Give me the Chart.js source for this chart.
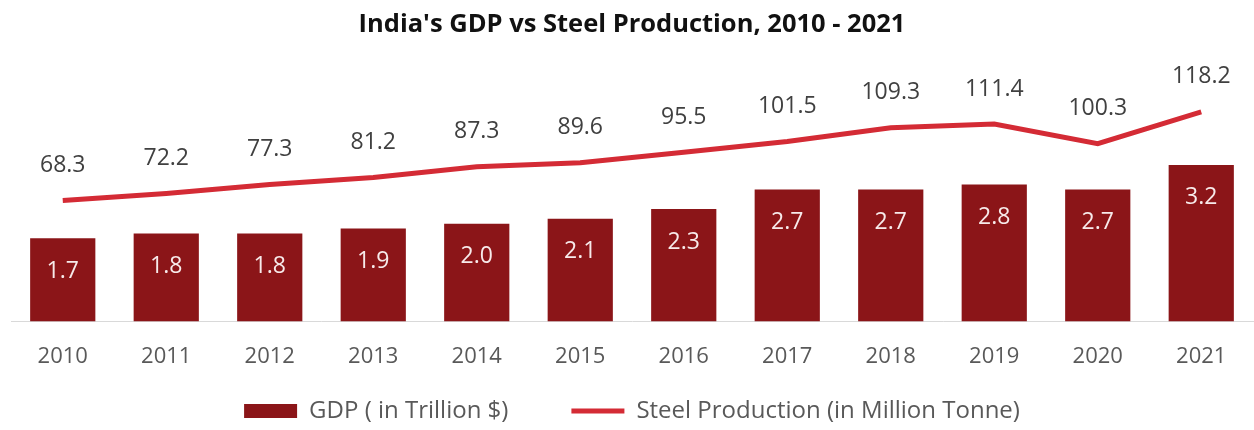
<!DOCTYPE html>
<html>
<head>
<meta charset="utf-8">
<title>India's GDP vs Steel Production</title>
<script src="https://cdn.jsdelivr.net/npm/chart.js@4/dist/chart.umd.min.js"></script>
<style>
  html, body { margin: 0; padding: 0; background: #fff; }
  #wrap { width: 1254px; height: 430px; }
</style>
</head>
<body>
<div id="wrap"><canvas id="chart"></canvas></div>
<script>
// Years on the x axis
const years = ['2010', '2011', '2012', '2013', '2014', '2015', '2016', '2017', '2018', '2019', '2020', '2021'];
// GDP, trillion US$
const gdp = [1.7, 1.8, 1.8, 1.9, 2.0, 2.1, 2.3, 2.7, 2.7, 2.8, 2.7, 3.2];
// Crude steel output, million tonnes
const steel = [68.3, 72.2, 77.3, 81.2, 87.3, 89.6, 95.5, 101.5, 109.3, 111.4, 100.3, 118.2];

const FONT = "'Open Sans', 'Liberation Sans', sans-serif";
const BAR_RED = '#8b1518';
const LINE_RED = '#d42b35';

// draws the value labels: inside the top of each bar, above each line point
const valueLabels = {
  id: 'valueLabels',
  afterDatasetsDraw(chart) {
    const ctx = chart.ctx;
    ctx.save();
    ctx.font = '23px ' + FONT;
    ctx.textAlign = 'center';
    ctx.textBaseline = 'middle';

    const bars = chart.getDatasetMeta(0).data;
    ctx.fillStyle = '#f7eaea';
    bars.forEach((el, i) => {
      ctx.fillText(gdp[i].toFixed(1), el.x, el.y + 33);
    });

    const pts = chart.getDatasetMeta(1).data;
    ctx.fillStyle = '#404040';
    pts.forEach((el, i) => {
      ctx.fillText(steel[i].toFixed(1), el.x, el.y - 35);
    });
    ctx.restore();
  }
};

new Chart(document.getElementById('chart'), {
  data: {
    labels: years,
    datasets: [
      {
        type: 'bar',
        label: 'GDP ( in Trillion $)',
        data: gdp,
        backgroundColor: BAR_RED,
        yAxisID: 'y',
        categoryPercentage: 0.63,
        barPercentage: 1,
        order: 2
      },
      {
        type: 'line',
        label: 'Steel Production (in Million Tonne)',
        data: steel,
        borderColor: LINE_RED,
        backgroundColor: LINE_RED,
        borderWidth: 5,
        pointRadius: 0,
        tension: 0,
        yAxisID: 'y2',
        order: 1
      }
    ]
  },
  options: {
    responsive: true,
    maintainAspectRatio: false,
    animation: false,
    layout: { padding: { left: 11, right: 1, top: 0, bottom: -3 } },
    plugins: {
      title: {
        display: true,
        text: "India's GDP vs Steel Production, 2010 - 2021",
        color: '#111',
        font: { family: FONT, size: 25.5, weight: 'bold' },
        padding: { top: 9, bottom: 23 }
      },
      legend: {
        position: 'bottom',
        labels: {
          usePointStyle: true,
          pointStyleWidth: 53,
          boxHeight: 14,
          color: '#595959',
          font: { family: FONT, size: 24 },
          padding: 15,
          generateLabels(chart) {
            // em spaces after the first entry keep the two entries apart
            return chart.data.datasets.map((ds, i) => ({
              text: ds.type === 'bar' ? ds.label + '\u2003\u2003' : ds.label,
              fillStyle: ds.type === 'bar' ? BAR_RED : LINE_RED,
              strokeStyle: ds.type === 'bar' ? BAR_RED : LINE_RED,
              lineWidth: ds.type === 'bar' ? 0 : 5,
              pointStyle: ds.type === 'bar' ? 'rect' : 'line',
              fontColor: '#595959',
              datasetIndex: i
            }));
          }
        }
      },
      tooltip: { enabled: false }
    },
    scales: {
      x: {
        grid: { display: false },
        border: { display: true, color: '#d9d9d9', width: 1 },
        ticks: { color: '#595959', font: { family: FONT, size: 22 }, padding: 14 }
      },
      y: { display: false, min: 0, max: 5.29 },
      y2: { display: false, min: 0, max: 146 }
    }
  },
  plugins: [valueLabels]
});
</script>
</body>
</html>
